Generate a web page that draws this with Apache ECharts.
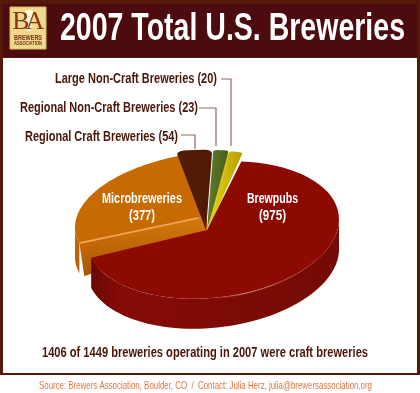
<!DOCTYPE html>
<html><head><meta charset="utf-8">
<style>html,body{margin:0;padding:0;background:#fff}#c{width:420px;height:393px}</style>
<script src="https://cdn.jsdelivr.net/npm/echarts@6/dist/echarts.min.js"></script>
</head><body><div id="c"></div>
<script>
const categories = ['Brewpubs','Microbreweries','Regional Craft Breweries','Regional Non-Craft Breweries','Large Non-Craft Breweries'];
const values = [975,377,54,23,20];
const titleText = '2007 Total U.S. Breweries';
const noteText = '1406 of 1449 breweries operating in 2007 were craft breweries';
const sourceText = 'Source: Brewers Association, Boulder, CO  /  Contact: Julia Herz, julia@brewersassociation.org';

const FONT = '"Liberation Sans",sans-serif';
const CX = 207, CY = 230, A = 132, ASPECT = 68/132, DEPTH = 30, START = 13, SHEAR = -0.085;
const total = values.reduce((a,b)=>a+b,0);
const vGrad=(c0,c1)=>({type:'linear',x:0,y:0,x2:1,y2:0,colorStops:[{offset:0,color:c0},{offset:1,color:c1}]});
const looks = [
  {top:'#8c0a02', wall:['#6a0805','#860c06','#740a05'], r:126/132, asp:68/65, rimDx:6, dx:0, dy:0, z:50, corner:0},
  {top:'#c76a02', wall:['#6e4007','#bd6808','#b55c02'], r:1, asp:0.94, rimDx:0, dx:0, dy:-14, z:10, corner:0},
  {top:'#521a04', r:1.18, dx:-1, dy:0, asp:1, z:20, corner:7},
  {top:vGrad('#5f7a2c','#46601c'), r:1.18, dx:0, dy:0, asp:1, z:21, corner:4},
  {top:vGrad('#e8d60c','#b89c06'), r:1.17, dx:1, dy:0, asp:1, z:22, corner:3}
];
function rim(cx,cy,a,b,from,to,drop){
  const pts=[]; const n=60;
  for(let i=0;i<=n;i++){
    const t=(from+(to-from)*i/n)*Math.PI/180, x=a*Math.sin(t);
    pts.push([cx+x,cy-b*Math.cos(t)+SHEAR*x+(drop||0)]);
  }
  return pts;
}
function renderSlice(params, api){
  const i = params.dataIndex, look = looks[i];
  let before = 0; for(let k=0;k<i;k++) before += values[k];
  const from = START + before/total*360, to = from + api.value(0)/total*360;
  const cx = CX+look.dx, cy = CY+look.dy, a = A*look.r, b = A*look.r*ASPECT*look.asp;
  const rx = cx+(look.rimDx||0);
  const kids = [];
  if(look.wall){
    const wf = Math.max(from,90), wt = Math.min(to,270);
    const upper = rim(rx,cy,a,b,wf,wt,0), lower = rim(rx,cy,a,b,wf,wt,DEPTH).reverse();
    kids.push({type:'polygon', z2:look.z, shape:{points:upper.concat(lower)},
      style:{fill:{type:'linear',x:0,y:0,x2:1,y2:0,colorStops:[{offset:0,color:look.wall[0]},{offset:0.12,color:look.wall[1]},{offset:1,color:look.wall[2]}]}}});
  }
  if(i===1){
    const p = rim(cx,cy,a,b,from,from,0)[0];
    kids.push({type:'polygon', z2:look.z+1, shape:{points:[[cx,cy],p,[p[0]+5,p[1]+DEPTH+3],[CX,CY]]},
      style:{fill:{type:'linear',x:0,y:0,x2:0,y2:1,colorStops:[{offset:0,color:'#d67a0c'},{offset:1,color:'#a85405'}]}}});
  }
  if(i===4){
    const p = rim(cx,cy,a,b,from,from,0)[0];
    kids.push({type:'polygon', z2:look.z-1, shape:{points:[[cx,cy],[p[0],p[1]+2],[p[0]-11,p[1]+20]]}, style:{fill:'#cdbb08'}});
  }
  if(look.wall){
    kids.push({type:'polygon', z2:look.z+2, shape:{points:[[cx,cy]].concat(rim(rx,cy,a,b,from,to,0))}, style:{fill:look.top}});
  } else {
    kids.push({type:'sector', z2:look.z+2, x:cx, y:cy, scaleY:b/a,
      shape:{cx:0,cy:0,r0:0,r:a,startAngle:(from-90)*Math.PI/180,endAngle:(to-90)*Math.PI/180,clockwise:true,cornerRadius:look.corner},
      style:{fill:look.top}});
  }
  if(i===0){
    kids.push({type:'polyline', z2:look.z+3, shape:{points:rim(rx,cy,a,b,130,178,0.5)},
      style:{fill:'none',lineWidth:1,stroke:{type:'linear',x:0,y:0,x2:1,y2:0,colorStops:[{offset:0,color:'rgba(235,170,150,0)'},{offset:0.3,color:'rgba(235,170,150,.75)'},{offset:1,color:'rgba(235,170,150,0)'}]}}});
  }
  if(i===1){
    const p = rim(cx,cy,a,b,from,from,0)[0];
    kids.push({type:'line', z2:look.z+3, shape:{x1:cx-9,y1:cy+2,x2:p[0],y2:p[1]}, style:{lineWidth:1.6,stroke:'#f2a75a'}});
  }
  return {type:'group', children:kids};
}
const ctx = document.createElement('canvas').getContext('2d');
function txt(text,x,y,size,fill,align,width,weight,z){
  const font=(weight||'bold')+' '+size+'px '+FONT;
  ctx.font=font;
  return {type:'text',x,y,z:z||30,scaleX:width/ctx.measureText(text).width,
    style:{text,font,fill,align:align||'center',verticalAlign:'middle'}};
}
const leader=(pts)=>({type:'polyline',z:30,shape:{points:pts},style:{fill:'none',stroke:'#8b6b62',lineWidth:1.2}});
const frame=[
  {type:'rect',z:-5,shape:{x:0,y:0,width:420,height:375},style:{fill:'#54190a'}},
  {type:'rect',z:-4,shape:{x:3,y:4,width:414,height:53},style:{fill:'#4c0b0f'}},
  {type:'rect',z:-4,shape:{x:3,y:58,width:414,height:315},style:{fill:'#fff'}},
  {type:'rect',z:1,shape:{x:10,y:7,width:36,height:42},style:{fill:'#efd98c',stroke:'#d9b95e',lineWidth:1}},
  {type:'polygon',z:2,shape:{points:[[25,10],[33,10],[31,31],[27,31]]},style:{fill:'#fbf6dc'}},
  {type:'text',z:3,x:21,y:22,style:{text:'B',font:'26px "Liberation Serif",serif',fill:'#8a3410',align:'center',verticalAlign:'middle'}},
  {type:'text',z:3,x:35,y:22,style:{text:'A',font:'26px "Liberation Serif",serif',fill:'#8a3410',align:'center',verticalAlign:'middle'}},
  txt('BREWERS',28,38,6.5,'#7a2e10','center',28,null,3),
  txt('ASSOCIATION',28,44,5,'#7a2e10','center',28,null,3),
  txt(titleText,232.5,29,39,'#fff','center',345),
  txt(categories[4]+' ('+values[4]+')',217,79,14,'#4a1608','right',162),
  txt(categories[3]+' ('+values[3]+')',198,108,14,'#4a1608','right',178),
  txt(categories[2]+' ('+values[2]+')',178,137,14,'#4a1608','right',153),
  leader([[221,79],[231,79],[231,146]]),
  leader([[199,108],[216,108],[216,146]]),
  leader([[181,135],[195,135],[195,149]]),
  txt(categories[1],142,199,14,'#fff','center',80,null,40),
  txt('('+values[1]+')',142,216,14,'#fff','center',26,null,40),
  txt(categories[0],272.5,199,14,'#fff','center',51,null,40),
  txt('('+values[0]+')',272.5,216,14,'#fff','center',27,null,40),
  txt(noteText,205,353,14.5,'#4a1608','center',326),
  txt(sourceText,205.5,386,11,'#e0773f','center',333,'normal')
];
const chart = echarts.init(document.getElementById('c'),null,{renderer:'canvas'});
chart.setOption({
  animation:false, backgroundColor:'#fff',
  graphic:{elements:frame},
  series:[{type:'custom',coordinateSystem:'none',z:10,renderItem:renderSlice,
    data:categories.map((n,i)=>({name:n,value:[values[i]]}))}]
});
</script></body></html>
